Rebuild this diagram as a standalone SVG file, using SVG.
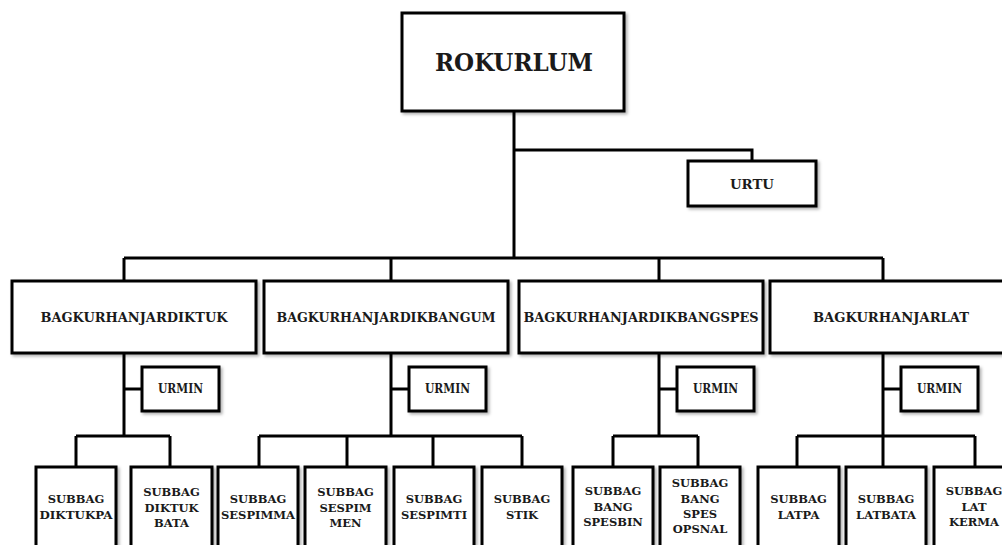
<svg xmlns="http://www.w3.org/2000/svg" width="1002" height="545" viewBox="0 0 1002 545">
  <defs>
    <filter id="shadow" x="-10%" y="-10%" width="130%" height="140%">
      <feDropShadow dx="2" dy="2" stdDeviation="1.5" flood-color="#000" flood-opacity="0.3"/>
    </filter>
    <style>
      .box { fill: #fff; stroke: #000; stroke-width: 3; filter: url(#shadow); }
      .wire { fill: none; stroke: #000; stroke-width: 3; stroke-linejoin: miter; }
      text { font-family: "DejaVu Serif", "Liberation Serif", serif; font-weight: bold; fill: #1a1a1a; text-anchor: middle; }
      .t-top { font-size: 25px; }
      .t-dept { font-size: 13px; }
      .t-ur { font-size: 12px; }
      .t-sub { font-size: 11.5px; }
    </style>
  </defs>
  <rect width="1002" height="545" fill="#fff"/>

  <!-- connectors -->
  <g id="connectors" class="wire">
    <path d="M514 111 V258"/>
    <path d="M514 150 H752 V161"/>
    <path d="M124 258 H883"/>
    <path d="M124 258 V281 M391 258 V281 M659 258 V281 M883 258 V281"/>
    <!-- BAGKURHANJARDIKTUK branch -->
    <path d="M124 353 V436 M124 389 H142 M76 436 H170 M76 436 V467 M170 436 V467"/>
    <!-- BAGKURHANJARDIKBANGUM branch -->
    <path d="M391 353 V436 M391 389 H409 M259 436 H522 M259 436 V467 M347 436 V467 M433 436 V467 M522 436 V467"/>
    <!-- BAGKURHANJARDIKBANGSPES branch -->
    <path d="M659 353 V436 M659 389 H677 M613 436 H698 M613 436 V467 M698 436 V467"/>
    <!-- BAGKURHANJARLAT branch -->
    <path d="M883 353 V436 M883 389 H901 M797 436 H975 M797 436 V467 M883 436 V467 M975 436 V467"/>
  </g>

  <!-- head -->
  <g id="rokurlum">
    <rect class="box" x="402" y="13" width="222" height="98"/>
    <text class="t-top" x="514" y="71" textLength="158" lengthAdjust="spacingAndGlyphs">ROKURLUM</text>
  </g>
  <g id="urtu">
    <rect class="box" x="688" y="161" width="128" height="45"/>
    <text class="t-dept" x="752" y="189" textLength="44" lengthAdjust="spacingAndGlyphs">URTU</text>
  </g>

  <!-- departments -->
  <g id="bag-diktuk">
    <rect class="box" x="12" y="281" width="244" height="72"/>
    <text class="t-dept" x="134" y="322" textLength="187" lengthAdjust="spacingAndGlyphs">BAGKURHANJARDIKTUK</text>
  </g>
  <g id="bag-dikbangum">
    <rect class="box" x="264" y="281" width="244" height="72"/>
    <text class="t-dept" x="386" y="322" textLength="219" lengthAdjust="spacingAndGlyphs">BAGKURHANJARDIKBANGUM</text>
  </g>
  <g id="bag-dikbangspes">
    <rect class="box" x="519" y="281" width="244" height="72"/>
    <text class="t-dept" x="641" y="322" textLength="235" lengthAdjust="spacingAndGlyphs">BAGKURHANJARDIKBANGSPES</text>
  </g>
  <g id="bag-lat">
    <rect class="box" x="770" y="281" width="244" height="72"/>
    <text class="t-dept" x="891" y="322" textLength="156" lengthAdjust="spacingAndGlyphs">BAGKURHANJARLAT</text>
  </g>

  <!-- admin units -->
  <g id="urmin-1">
    <rect class="box" x="142" y="367" width="77" height="44"/>
    <text class="t-ur" x="180.5" y="393" textLength="45" lengthAdjust="spacingAndGlyphs">URMIN</text>
  </g>
  <g id="urmin-2">
    <rect class="box" x="409" y="367" width="77" height="44"/>
    <text class="t-ur" x="447.5" y="393" textLength="45" lengthAdjust="spacingAndGlyphs">URMIN</text>
  </g>
  <g id="urmin-3">
    <rect class="box" x="677" y="367" width="77" height="44"/>
    <text class="t-ur" x="715.5" y="393" textLength="45" lengthAdjust="spacingAndGlyphs">URMIN</text>
  </g>
  <g id="urmin-4">
    <rect class="box" x="901" y="367" width="77" height="44"/>
    <text class="t-ur" x="939.5" y="393" textLength="45" lengthAdjust="spacingAndGlyphs">URMIN</text>
  </g>

  <!-- sub-sections -->
  <g id="subbag-diktukpa">
    <rect class="box" x="36" y="467" width="80" height="100"/>
    <text class="t-sub" x="76" y="503">SUBBAG</text>
    <text class="t-sub" x="76" y="519" textLength="73" lengthAdjust="spacingAndGlyphs">DIKTUKPA</text>
  </g>
  <g id="subbag-diktuk-bata">
    <rect class="box" x="131" y="467" width="81" height="100"/>
    <text class="t-sub" x="171.5" y="496">SUBBAG</text>
    <text class="t-sub" x="171.5" y="512">DIKTUK</text>
    <text class="t-sub" x="171.5" y="527">BATA</text>
  </g>
  <g id="subbag-sespimma">
    <rect class="box" x="218" y="467" width="80" height="100"/>
    <text class="t-sub" x="258" y="503">SUBBAG</text>
    <text class="t-sub" x="258" y="519" textLength="74" lengthAdjust="spacingAndGlyphs">SESPIMMA</text>
  </g>
  <g id="subbag-sespimmen">
    <rect class="box" x="305" y="467" width="81" height="100"/>
    <text class="t-sub" x="345.5" y="496">SUBBAG</text>
    <text class="t-sub" x="345.5" y="512">SESPIM</text>
    <text class="t-sub" x="345.5" y="527">MEN</text>
  </g>
  <g id="subbag-sespimti">
    <rect class="box" x="394" y="467" width="80" height="100"/>
    <text class="t-sub" x="434" y="503">SUBBAG</text>
    <text class="t-sub" x="434" y="519">SESPIMTI</text>
  </g>
  <g id="subbag-stik">
    <rect class="box" x="482" y="467" width="80" height="100"/>
    <text class="t-sub" x="522" y="503">SUBBAG</text>
    <text class="t-sub" x="522" y="519">STIK</text>
  </g>
  <g id="subbag-bang-spesbin">
    <rect class="box" x="573" y="467" width="80" height="100"/>
    <text class="t-sub" x="613" y="495">SUBBAG</text>
    <text class="t-sub" x="613" y="511">BANG</text>
    <text class="t-sub" x="613" y="526">SPESBIN</text>
  </g>
  <g id="subbag-bang-spes-opsnal">
    <rect class="box" x="660" y="467" width="80" height="100"/>
    <text class="t-sub" x="700" y="487">SUBBAG</text>
    <text class="t-sub" x="700" y="503">BANG</text>
    <text class="t-sub" x="700" y="518">SPES</text>
    <text class="t-sub" x="700" y="533">OPSNAL</text>
  </g>
  <g id="subbag-latpa">
    <rect class="box" x="758" y="467" width="81" height="100"/>
    <text class="t-sub" x="798.5" y="503">SUBBAG</text>
    <text class="t-sub" x="798.5" y="519">LATPA</text>
  </g>
  <g id="subbag-latbata">
    <rect class="box" x="846" y="467" width="80" height="100"/>
    <text class="t-sub" x="886" y="503">SUBBAG</text>
    <text class="t-sub" x="886" y="519">LATBATA</text>
  </g>
  <g id="subbag-lat-kerma">
    <rect class="box" x="934" y="467" width="80" height="100"/>
    <text class="t-sub" x="974" y="495">SUBBAG</text>
    <text class="t-sub" x="974" y="511">LAT</text>
    <text class="t-sub" x="974" y="526">KERMA</text>
  </g>
</svg>
